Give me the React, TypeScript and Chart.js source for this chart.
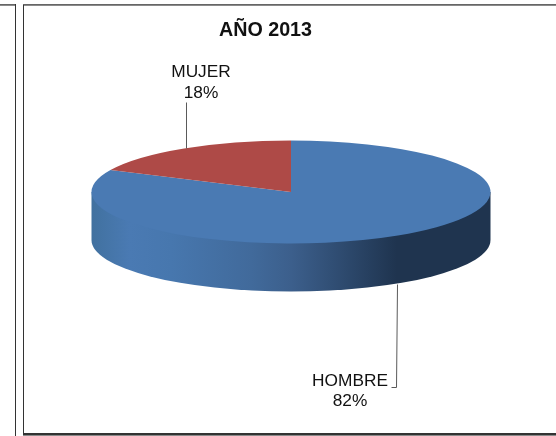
import React, { useEffect, useRef } from "react";
import { Chart, registerables } from "chart.js";

Chart.register(...registerables);

const categories = ["HOMBRE", "MUJER"];
const values = [82, 18];
const sliceColors = ["#4a7ab3", "#ae4a47"];
const chartTitle = "AÑO 2013";

const FONT = '"Liberation Sans", Arial, sans-serif';
const RX = 199.5;
const RY = 51.5;
const DEPTH = 48;
const CX = 291;
const CY = 192;
const R = 160;

const wallStops: [number, string][] = [
  [0, "#41719f"],
  [0.095, "#4a7ab3"],
  [0.2, "#4777ae"],
  [0.4, "#416a9b"],
  [0.5, "#3c5f8c"],
  [0.62, "#2f4c71"],
  [0.765, "#1f344f"],
  [1, "#1f344f"],
];

const labelSpots = [
  { text: 0, x: 350, y: 381, line: [[397, 284], [396, 387], [391, 387]] },
  { text: 1, x: 201, y: 72.5, line: [[186, 102], [186, 148]] },
];

const pie3d = {
  id: "pie3d",
  afterLayout(chart: any) {
    const t = chart.titleBlock;
    t.left = 172.5;
    t.right = 358.5;
    t.top = 19;
    t.bottom = 41;
  },
  beforeDatasetsDraw(chart: any) {
    const ctx = chart.ctx;
    const arcs = chart.getDatasetMeta(0).data;
    const r = arcs[0].outerRadius;
    const kx = RX / r;
    const ky = RY / r;
    const cx = arcs[0].x;
    const cy = arcs[0].y;
    arcs.forEach((a: any, i: number) => {
      const s = Math.max(a.startAngle, 0);
      const e = Math.min(a.endAngle, Math.PI);
      if (e <= s) return;
      const g = ctx.createLinearGradient(cx - RX, 0, cx + RX, 0);
      wallStops.forEach(([p, c]) => g.addColorStop(p, c));
      ctx.save();
      ctx.fillStyle = i === 0 ? g : sliceColors[i];
      ctx.beginPath();
      ctx.moveTo(cx, cy);
      ctx.lineTo(cx + RX * Math.cos(s), cy + RY * Math.sin(s));
      ctx.ellipse(cx, cy + DEPTH, RX, RY, 0, s, e);
      ctx.lineTo(cx + RX * Math.cos(e), cy + RY * Math.sin(e));
      ctx.closePath();
      ctx.fill();
      ctx.restore();
    });
    ctx.save();
    ctx.translate(cx, cy);
    ctx.scale(kx, ky);
    ctx.translate(-cx, -cy);
  },
  afterDatasetsDraw(chart: any) {
    const ctx = chart.ctx;
    ctx.restore();
    ctx.save();
    ctx.strokeStyle = "#5a5a5a";
    ctx.lineWidth = 1;
    labelSpots.forEach((l) => {
      ctx.beginPath();
      l.line.forEach(([x, y], i) => (i ? ctx.lineTo(x + 0.5, y + 0.5) : ctx.moveTo(x + 0.5, y + 0.5)));
      ctx.stroke();
    });
    ctx.fillStyle = "#111";
    ctx.font = `17.3px ${FONT}`;
    ctx.textAlign = "center";
    ctx.textBaseline = "middle";
    labelSpots.forEach((l) => {
      ctx.fillText(categories[l.text], l.x, l.y);
      ctx.fillText(`${values[l.text]}%`, l.x, l.y + 20.5);
    });
    ctx.restore();
  },
  beforeDraw(chart: any) {
    const ctx = chart.ctx;
    ctx.save();
    ctx.fillStyle = "#fff";
    ctx.fillRect(0, 0, 556, 436);
    ctx.fillStyle = "#8a8a8a";
    ctx.fillRect(0, 4, 15, 2);
    ctx.fillRect(23, 4, 533, 2);
    ctx.fillRect(23, 434, 533, 2);
    ctx.fillStyle = "#333";
    ctx.fillRect(15, 4, 1, 432);
    ctx.fillRect(23, 5, 1, 430);
    ctx.fillRect(23, 433, 533, 2);
    ctx.fillStyle = "#666";
    ctx.fillRect(0, 4, 15, 1);
    ctx.fillRect(23, 4, 533, 1);
    ctx.restore();
  },
};

export default function App() {
  const ref = useRef<HTMLCanvasElement>(null);
  useEffect(() => {
    const chart = new Chart(ref.current!, {
      type: "pie",
      data: {
        labels: categories,
        datasets: [
          {
            data: values,
            backgroundColor: sliceColors,
            borderWidth: 0,
            clip: false,
          } as any,
        ],
      },
      options: {
        responsive: false,
        animation: false,
        rotation: 0,
        layout: {
          padding: { left: CX - R, right: 556 - CX - R, top: CY - R - 24, bottom: 436 - CY - R },
        },
        plugins: {
          legend: { display: false },
          tooltip: { enabled: false },
          title: {
            display: true,
            text: chartTitle,
            color: "#111",
            padding: 0,
            font: { family: FONT, size: 19.7, weight: "bold", lineHeight: 24 / 19.7 },
          },
        },
      },
      plugins: [pie3d],
    } as any);
    return () => chart.destroy();
  }, []);
  return (
    <canvas
      ref={ref}
      width={556}
      height={436}
      style={{ position: "fixed", left: 0, top: 0, display: "block" }}
    />
  );
}
